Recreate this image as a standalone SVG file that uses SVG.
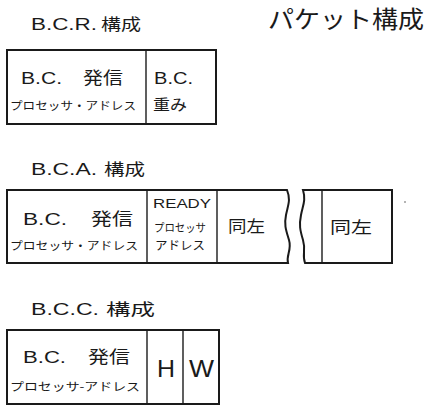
<svg xmlns="http://www.w3.org/2000/svg" width="439" height="409" viewBox="0 0 439 409">
<style>
.box{fill:none;stroke:#1a1a1a;stroke-width:2}
.div{fill:none;stroke:#1a1a1a;stroke-width:1.4}
text{fill:#1a1a1a;font-family:"Liberation Sans","Noto Sans CJK JP",sans-serif}
.jp{font-family:"Noto Sans CJK JP",sans-serif}
.t{font-size:16px}
.m{font-size:17px}
.s{font-size:11.5px}
</style>
<rect width="439" height="409" fill="#ffffff"/>
<text x="268" y="28" class="jp" font-size="24" textLength="156" lengthAdjust="spacingAndGlyphs">パケット構成</text>

<g id="bcr">
<text x="31" y="30" class="t" textLength="66" lengthAdjust="spacingAndGlyphs">B.C.R.</text>
<text x="101" y="30" class="t jp" textLength="40" lengthAdjust="spacingAndGlyphs">構成</text>
<rect class="box" x="7" y="50" width="209" height="74"/>
<line class="div" x1="146" y1="50" x2="146" y2="124"/>
<text x="21" y="84" class="m" textLength="41" lengthAdjust="spacingAndGlyphs">B.C.</text>
<text x="83" y="84" class="m jp" textLength="40" lengthAdjust="spacingAndGlyphs">発信</text>
<text x="10" y="110" class="s jp" textLength="126" lengthAdjust="spacingAndGlyphs">プロセッサ・アドレス</text>
<text x="154" y="84" class="m" textLength="39" lengthAdjust="spacingAndGlyphs">B.C.</text>
<text x="153" y="110" class="jp" font-size="15" textLength="34" lengthAdjust="spacingAndGlyphs">重み</text>
</g>

<g id="bca">
<text x="31" y="175" class="t" textLength="66" lengthAdjust="spacingAndGlyphs">B.C.A.</text>
<text x="104" y="175" class="t jp" textLength="41" lengthAdjust="spacingAndGlyphs">構成</text>
<path class="box" d="M287,190 L7,190 L7,263 L288,263 C286,255 292,250 289,240 C286,230 284,225 286,215 C288,205 291,200 287,190 Z"/>
<line class="div" x1="147" y1="190" x2="147" y2="263"/>
<line class="div" x1="217" y1="190" x2="217" y2="263"/>
<path class="box" d="M303,190 L392,190 L392,263 L305,263 C302,255 306,250 303,240 C300,230 299,225 301,215 C303,205 306,200 303,190 Z"/>
<line class="div" x1="322" y1="190" x2="322" y2="263"/>
<text x="23" y="225" class="m" textLength="44" lengthAdjust="spacingAndGlyphs">B.C.</text>
<text x="91" y="225" class="m jp" textLength="42" lengthAdjust="spacingAndGlyphs">発信</text>
<text x="10" y="250" class="s jp" textLength="128" lengthAdjust="spacingAndGlyphs">プロセッサ・アドレス</text>
<text x="153" y="208" font-size="13" textLength="58" lengthAdjust="spacingAndGlyphs">READY</text>
<text x="154" y="232" class="jp" font-size="11" textLength="52" lengthAdjust="spacingAndGlyphs">プロセッサ</text>
<text x="155" y="250" class="jp" font-size="12" textLength="50" lengthAdjust="spacingAndGlyphs">アドレス</text>
<text x="228" y="232" class="jp" font-size="16" textLength="37" lengthAdjust="spacingAndGlyphs">同左</text>
<text x="330" y="233" class="jp" font-size="16" textLength="42" lengthAdjust="spacingAndGlyphs">同左</text>
</g>

<g id="bcc">
<text x="31" y="315" class="t" textLength="68" lengthAdjust="spacingAndGlyphs">B.C.C.</text>
<text x="106" y="315" class="t jp" textLength="49" lengthAdjust="spacingAndGlyphs">構成</text>
<rect class="box" x="7" y="330" width="212" height="74"/>
<line class="div" x1="147" y1="330" x2="147" y2="404"/>
<line class="div" x1="183" y1="330" x2="183" y2="404"/>
<text x="23" y="363" class="m" textLength="43" lengthAdjust="spacingAndGlyphs">B.C.</text>
<text x="88" y="363" class="m jp" textLength="42" lengthAdjust="spacingAndGlyphs">発信</text>
<text x="10" y="391" class="s jp" textLength="130" lengthAdjust="spacingAndGlyphs">プロセッサ-アドレス</text>
<text x="157" y="377" font-size="24" textLength="18" lengthAdjust="spacingAndGlyphs">H</text>
<text x="189" y="377" font-size="24" textLength="25" lengthAdjust="spacingAndGlyphs">W</text>
</g>
<circle cx="405" cy="202" r="0.8" fill="#555"/>
</svg>
